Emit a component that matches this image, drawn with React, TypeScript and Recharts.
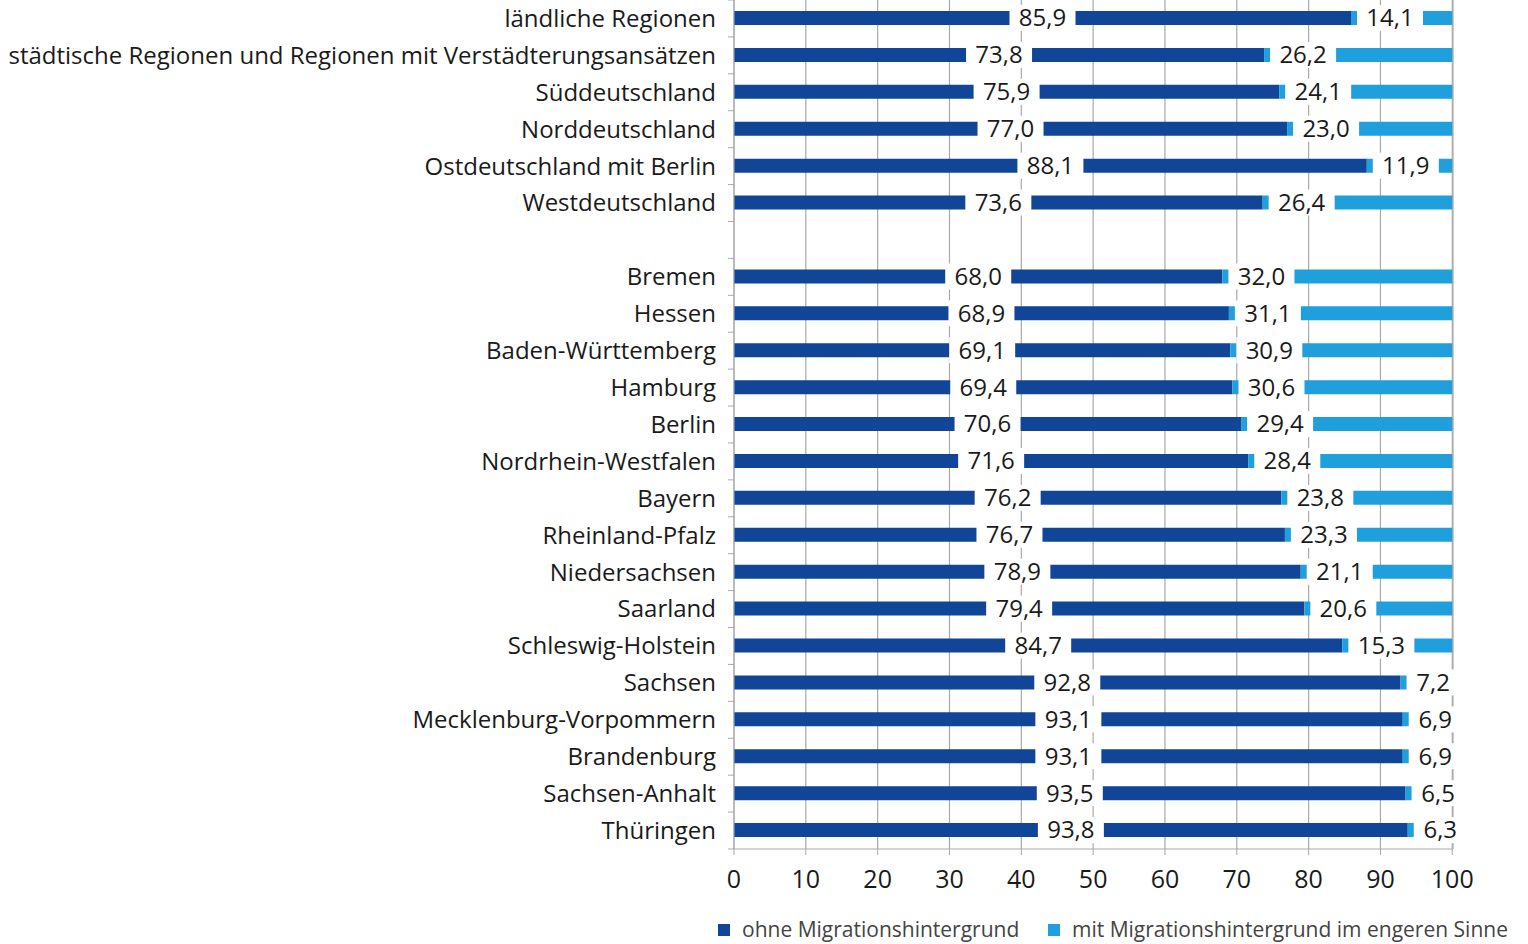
import { BarChart, Bar, XAxis, YAxis, CartesianGrid, LabelList } from "recharts";

const regions = [
  "ländliche Regionen",
  "städtische Regionen und Regionen mit Verstädterungsansätzen",
  "Süddeutschland",
  "Norddeutschland",
  "Ostdeutschland mit Berlin",
  "Westdeutschland",
  " ",
  "Bremen",
  "Hessen",
  "Baden-Württemberg",
  "Hamburg",
  "Berlin",
  "Nordrhein-Westfalen",
  "Bayern",
  "Rheinland-Pfalz",
  "Niedersachsen",
  "Saarland",
  "Schleswig-Holstein",
  "Sachsen",
  "Mecklenburg-Vorpommern",
  "Brandenburg",
  "Sachsen-Anhalt",
  "Thüringen",
];

const ohne = [85.9, 73.8, 75.9, 77.0, 88.1, 73.6, null, 68.0, 68.9, 69.1, 69.4, 70.6, 71.6, 76.2, 76.7, 78.9, 79.4, 84.7, 92.8, 93.1, 93.1, 93.5, 93.8];
const mit = [14.1, 26.2, 24.1, 23.0, 11.9, 26.4, null, 32.0, 31.1, 30.9, 30.6, 29.4, 28.4, 23.8, 23.3, 21.1, 20.6, 15.3, 7.2, 6.9, 6.9, 6.5, 6.3];

const xTicks = [0, 10, 20, 30, 40, 50, 60, 70, 80, 90, 100];

const data = regions.map((name, i) => ({ name, ohne: ohne[i], mit: mit[i] }));

const DARK = "#114597";
const LIGHT = "#1fa0dc";
const GRID = "#a9a9a9";
const FONT = "'Open Sans', sans-serif";

const fmt = (v: number) => v.toFixed(1).replace(".", ",");

function boxLabel(mode: "center" | "base") {
  return (props: any) => {
    const { x, y, width, height, value } = props;
    if (value == null) return null;
    const txt = fmt(Number(value));
    const w = txt.length * 13 + 14;
    const cx = mode === "center" ? x + width / 2 : x + 6 + w / 2;
    const cy = y + height / 2;
    return (
      <g>
        <rect x={cx - w / 2} y={cy - 13} width={w} height={26} fill="#fff" />
        <text x={cx} y={cy} dy="0.35em" textAnchor="middle" fontSize={24} fill="#1a1a1a" fontFamily={FONT}>
          {txt}
        </text>
      </g>
    );
  };
}

const half = 849 / regions.length / 2;

const CategoryTick = (props: any) => {
  const { x, y, payload, index } = props;
  return (
    <g>
      <text x={x} y={y} dy="0.35em" textAnchor="end" fontSize={24} fill="#1a1a1a" fontFamily={FONT}>
        {payload.value}
      </text>
      {index === 0 && <line x1={x + 12} x2={x + 18} y1={y - half} y2={y - half} stroke={GRID} />}
      <line x1={x + 12} x2={x + 18} y1={y + half} y2={y + half} stroke={GRID} />
    </g>
  );
};

// legend drawn in svg so nothing gets clipped at the bottom edge
const LegendSvg = () => (
  <g fontFamily={FONT} fontSize={21} fill="#444">
    <rect x={718} y={924} width={12} height={12} fill={DARK} />
    <text x={742} y={930} dy="0.35em">ohne Migrationshintergrund</text>
    <rect x={1048} y={924} width={12} height={12} fill={LIGHT} />
    <text x={1072} y={930} dy="0.35em">mit Migrationshintergrund im engeren Sinne</text>
  </g>
);

export default function App() {
  return (
    <div style={{ position: "absolute", left: 0, top: 0, width: 1528, height: 944, background: "#fff" }}>
      <BarChart
        width={1528}
        height={944}
        data={data}
        layout="vertical"
        margin={{ top: 0, right: 75, left: 0, bottom: 45 }}
        barCategoryGap={0}
      >
        <CartesianGrid horizontal={false} stroke={GRID} strokeWidth={1.2} />
        <XAxis
          type="number"
          domain={[0, 100]}
          ticks={xTicks}
          interval={0}
          height={50}
          stroke={GRID}
          tickSize={6}
          tickMargin={15}
          tick={{ fontSize: 25, fill: "#1a1a1a", fontFamily: FONT }}
        />
        <YAxis
          type="category"
          dataKey="name"
          width={734}
          stroke={GRID}
          tickLine={false}
          tickSize={0}
          tickMargin={18}
          interval={0}
          tick={<CategoryTick />}
        />
        <Bar dataKey="ohne" name="ohne Migrationshintergrund" stackId="a" fill={DARK} barSize={14} isAnimationActive={false}>
          <LabelList dataKey="ohne" content={boxLabel("center")} />
        </Bar>
        <Bar dataKey="mit" name="mit Migrationshintergrund im engeren Sinne" stackId="a" fill={LIGHT} barSize={14} isAnimationActive={false}>
          <LabelList dataKey="mit" content={boxLabel("base")} />
        </Bar>
        <LegendSvg />
      </BarChart>
    </div>
  );
}
